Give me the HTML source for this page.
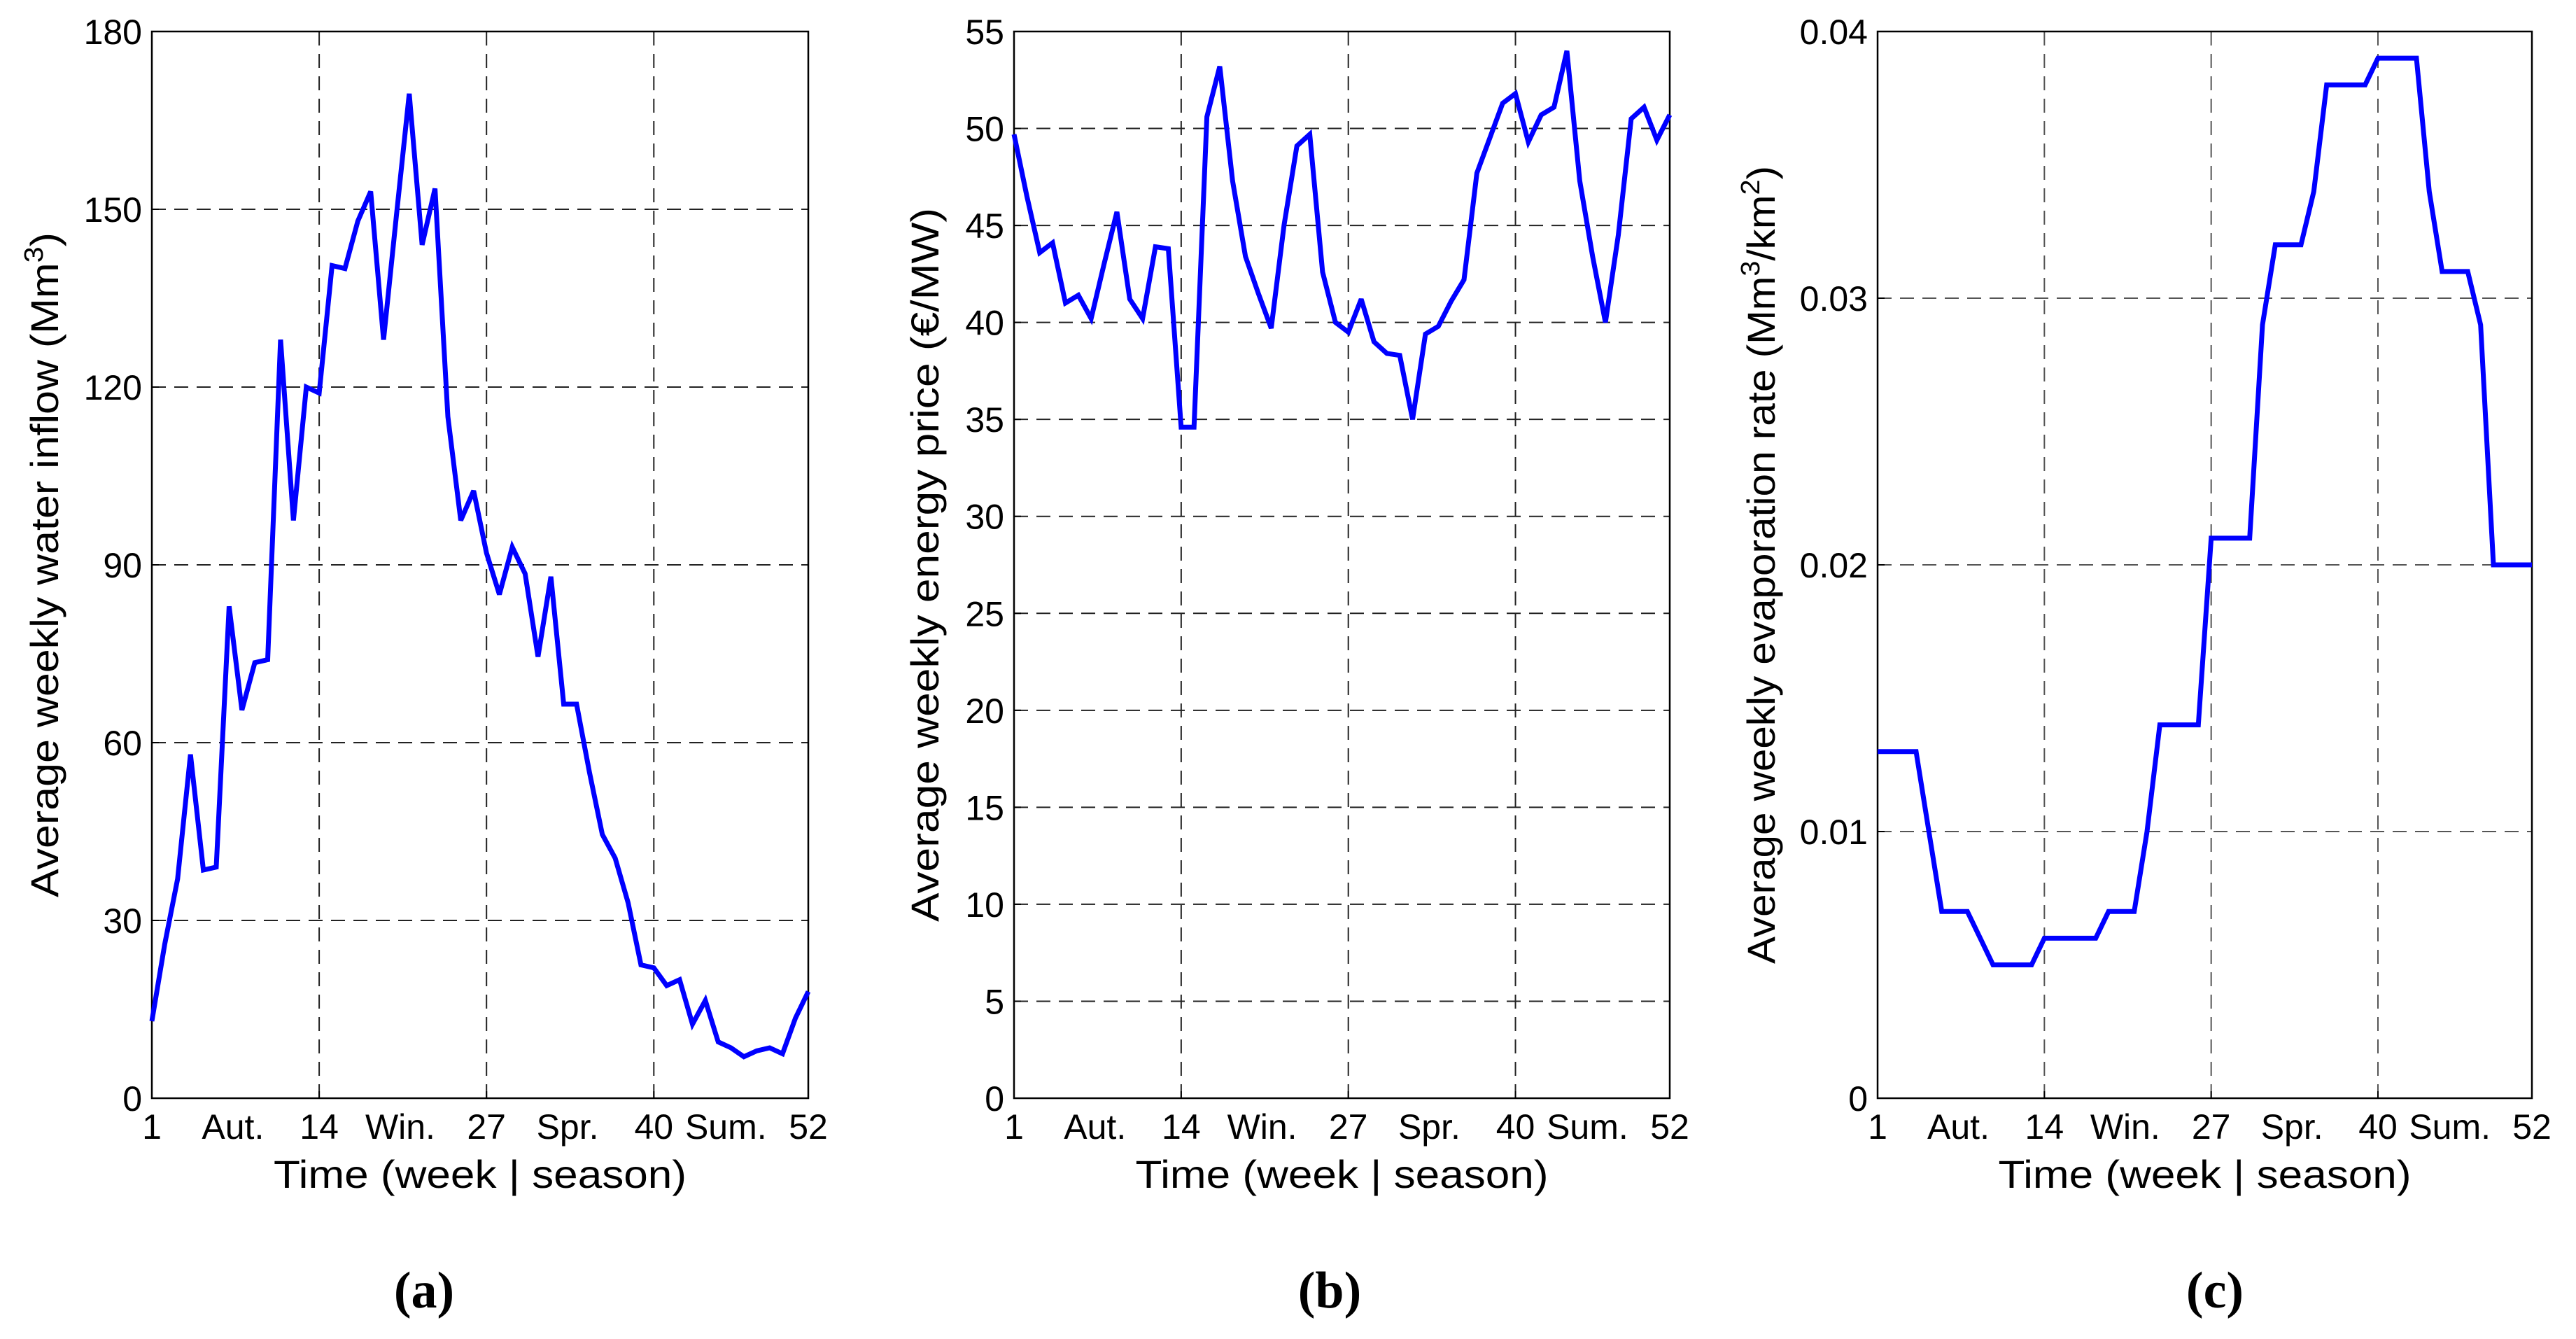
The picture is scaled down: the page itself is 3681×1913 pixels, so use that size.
<!DOCTYPE html>
<html><head><meta charset="utf-8"><style>
html,body{margin:0;padding:0;background:#fff;}
svg{display:block;}
text{font-family:"Liberation Sans",Arial,sans-serif;fill:#000;}
</style></head><body>
<svg id="fig" width="3681" height="1913" viewBox="0 0 3681 1913" xmlns="http://www.w3.org/2000/svg"></svg>
<script>
const weeks = Array.from({length:52},(_,i)=>i+1);
const inflowValues = [13,26,37,58,38.5,39,83,65.5,73.5,74,128,97.5,120,119,140.5,140,148,153,128,149,169.5,144,153.5,115,97.5,102.5,92,85,93,88.5,74.5,88,66.5,66.5,55,44.5,40.5,33,22.5,22,19,20,12.5,16.5,9.5,8.5,7,8,8.5,7.5,13.5,18];
const priceValues = [49.7,46.5,43.6,44.1,41,41.4,40.2,43,45.7,41.2,40.2,43.9,43.8,34.6,34.6,50.6,53.2,47.3,43.4,41.5,39.7,45,49.1,49.7,42.6,40,39.5,41.2,39,38.4,38.3,35,39.4,39.8,41.1,42.2,47.7,49.5,51.3,51.8,49.3,50.7,51.1,54,47.3,43.4,40,44.5,50.5,51.1,49.4,50.7];
const evapValues = [0.013,0.013,0.013,0.013,0.01,0.007,0.007,0.007,0.006,0.005,0.005,0.005,0.005,0.006,0.006,0.006,0.006,0.006,0.007,0.007,0.007,0.01,0.014,0.014,0.014,0.014,0.021,0.021,0.021,0.021,0.029,0.032,0.032,0.032,0.034,0.038,0.038,0.038,0.038,0.039,0.039,0.039,0.039,0.034,0.031,0.031,0.031,0.029,0.02,0.02,0.02,0.02];
const xTickWeeks = [1,14,27,40,52];
const seasonLabels = ["Aut.","Win.","Spr.","Sum."];
const seasonWeeks = [7.3,20.3,33.3,45.6];
const inflowTicks = [0,30,60,90,120,150,180];
const priceTicks = [0,5,10,15,20,25,30,35,40,45,50,55];
const evapTicks = [0,0.01,0.02,0.03,0.04];
const evapTickLabels = ["0","0.01","0.02","0.03","0.04"];

const NS="http://www.w3.org/2000/svg";
const svg=document.getElementById('fig');
function mk(tag,attrs,parent){const e=document.createElementNS(NS,tag);for(const k in attrs)e.setAttribute(k,attrs[k]);(parent||svg).appendChild(e);return e;}

function panel(opt){
  const g=mk('g',{});
  
  
  const L=opt.left,R=opt.right,T=45,B=1569;
  const xs=w=>L+(w-1)/51*(R-L);
  const ys=v=>B-(v-opt.ymin)/(opt.ymax-opt.ymin)*(B-T);
  opt.ticks.forEach((t,i)=>{
    if(t!==opt.ymin && t!==opt.ymax){
      const gl=mk('line',{x1:L,x2:R,y1:ys(t),y2:ys(t),stroke:opt.grid,'stroke-width':2,'stroke-dasharray':'20 12'},g);
      
      
    }
    const tk=mk('line',{x1:L,x2:L+10,y1:ys(t),y2:ys(t),stroke:'#000','stroke-width':2},g);
    
    
    const tl=mk('text',{x:L-14,y:ys(t)+18,'font-size':50,'text-anchor':'end'},g);
    tl.textContent=opt.tickLabels?opt.tickLabels[i]:String(t);
    
    
  });
  xTickWeeks.forEach(w=>{
    if(w!==1 && w!==52){
      const vl=mk('line',{x1:xs(w),x2:xs(w),y1:T,y2:B,stroke:opt.grid,'stroke-width':2,'stroke-dasharray':'20 12'},g);
      
      
    }
    const tk=mk('line',{x1:xs(w),x2:xs(w),y1:B,y2:B-10,stroke:'#000','stroke-width':2},g);
    
    
    const tl=mk('text',{x:xs(w),y:1627,'font-size':50,'text-anchor':'middle'},g);
    tl.textContent=String(w);
    
    
  });
  seasonLabels.forEach((s,i)=>{
    const tl=mk('text',{x:xs(seasonWeeks[i]),y:1627,'font-size':50,'text-anchor':'middle'},g);
    tl.textContent=s;
    
    
  });
  const box=mk('rect',{x:L,y:T,width:R-L,height:B-T,fill:'none',stroke:'#000','stroke-width':2.5},g);
  
  
  const pts=weeks.map((w,i)=>xs(w).toFixed(1)+','+ys(opt.values[i]).toFixed(1)).join(' ');
  const pl=mk('polyline',{points:pts,fill:'none',stroke:'#0000ff','stroke-width':7,'stroke-linejoin':'miter','stroke-miterlimit':3},g);
  
  
  const xl=mk('text',{x:(L+R)/2,y:1697,'font-size':56,'text-anchor':'middle',textLength:590,lengthAdjust:'spacingAndGlyphs'},g);
  xl.textContent='Time (week | season)';
  
  
  const yl=mk('text',{x:0,y:0,'font-size':56,'text-anchor':'middle',transform:`translate(${opt.ylx},807) rotate(-90)`,textLength:opt.ylen,lengthAdjust:'spacingAndGlyphs'},g);
  yl.innerHTML=opt.ytitle;
  
  
  const cap=mk('text',{x:opt.capx,y:1868,'font-size':74,'text-anchor':'middle','font-weight':'bold',style:'font-family:"Liberation Serif",serif'},g);
  cap.textContent='('+opt.cap+')';
  
  
}
panel({name:'water-inflow-chart',left:217,right:1155,ymin:0,ymax:180,ticks:inflowTicks,values:inflowValues,grid:'#222',ylx:83,ylen:950,
  ytitle:'Average weekly water inflow (Mm<tspan dy="-22" font-size="38">3</tspan><tspan dy="22">)</tspan>',capx:606,cap:'a'});
panel({name:'energy-price-chart',left:1449,right:2386,ymin:0,ymax:55,ticks:priceTicks,values:priceValues,grid:'#222',ylx:1341,ylen:1020,
  ytitle:'Average weekly energy price (€/MW)',capx:1900,cap:'b'});
panel({name:'evaporation-rate-chart',left:2683,right:3618,ymin:0,ymax:0.04,ticks:evapTicks,tickLabels:evapTickLabels,values:evapValues,grid:'#555',ylx:2536,ylen:1140,
  ytitle:'Average weekly evaporation rate (Mm<tspan dy="-22" font-size="38">3</tspan><tspan dy="22">/km</tspan><tspan dy="-22" font-size="38">2</tspan><tspan dy="22">)</tspan>',capx:3165,cap:'c'});
</script>
</body></html>
